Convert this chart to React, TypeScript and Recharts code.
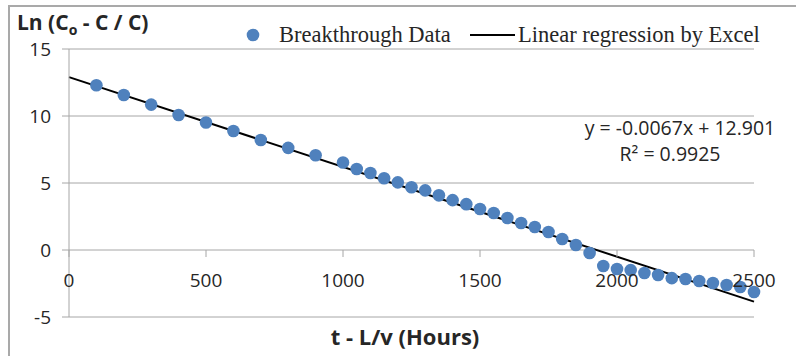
import React from "react";
import { ComposedChart, Scatter, Line, XAxis, YAxis, CartesianGrid } from "recharts";

// elapsed time minus travel time, hours
const HOURS = [
  100, 200, 300, 400, 500, 600, 700, 800, 900,
  1000, 1050, 1100, 1150, 1200, 1250, 1300, 1350, 1400, 1450,
  1500, 1550, 1600, 1650, 1700, 1750, 1800, 1850, 1900, 1950,
  2000, 2050, 2100, 2150, 2200, 2250, 2300, 2350, 2400, 2450, 2500,
];
// Ln((Co - C) / C)
const LN_RATIO = [
  12.3, 11.57, 10.85, 10.07, 9.52, 8.88, 8.21, 7.62, 7.07,
  6.53, 6.04, 5.75, 5.35, 5.05, 4.68, 4.45, 4.08, 3.72, 3.42,
  3.06, 2.76, 2.39, 2.02, 1.72, 1.34, 0.82, 0.37, -0.22, -1.19,
  -1.42, -1.5, -1.72, -1.87, -2.1, -2.16, -2.31, -2.46, -2.61, -2.76, -3.13,
];
// excel trend line end points
const FIT_HOURS = [0, 2500];
const FIT_VALUES = [12.901, -3.849];

const X_TICKS = [0, 500, 1000, 1500, 2000, 2500];
const Y_TICKS = [-5, 0, 5, 10, 15];

const points = HOURS.map((t, i) => ({ t, v: LN_RATIO[i] }));
const fit = FIT_HOURS.map((t, i) => ({ t, v: FIT_VALUES[i] }));

const W = 796, H = 356;
const M = { top: 49, right: 42, bottom: 0, left: 0 };
const Y_AXIS_W = 69;
const X_AXIS_H = 39;
const PLOT_H = H - M.top - M.bottom - X_AXIS_H;
const Y_MIN = -5, Y_MAX = 15;
// x axis crosses at y = 0, not at the bottom of the plot
const ZERO_LIFT = PLOT_H * (0 - Y_MIN) / (Y_MAX - Y_MIN);

const GRID = "#A6A6A6";
const TXT = "#262626";
const NUM_FONT = "'Open Sans', sans-serif";
const SERIF = "'Liberation Serif', 'Times New Roman', serif";
const BLUE = "#4F81BD";

function XTick({ x, y, payload }: any) {
  const y0 = y - ZERO_LIFT;
  return (
    <g>
      <line x1={x} x2={x} y1={y0} y2={y0 + 7} stroke={GRID} />
      <text x={x} y={y0 + 37} textAnchor="middle" fill={TXT}
        style={{ fontFamily: NUM_FONT, fontSize: 19 }}>{payload.value}</text>
    </g>
  );
}

export default function App() {
  return (
    <div style={{ position: "absolute", left: 0, top: 0, width: W, height: H, background: "#fff", overflow: "hidden" }}>
      <div style={{ position: "absolute", left: 8, top: 5, width: W, height: H, borderLeft: "2px solid #A9A9A9", borderTop: "2px solid #A9A9A9" }} />
      <ComposedChart width={W} height={H} margin={M} style={{ position: "absolute", left: 0, top: 0 }}>
        <CartesianGrid vertical={false} stroke={GRID} strokeWidth={1} />
        <XAxis type="number" dataKey="t" domain={[0, 2500]} ticks={X_TICKS} height={X_AXIS_H}
          axisLine={false} tickLine={false} tickSize={0} tickMargin={0} tick={<XTick />} />
        <YAxis type="number" dataKey="v" domain={[Y_MIN, Y_MAX]} ticks={Y_TICKS} width={Y_AXIS_W}
          axisLine={{ stroke: GRID }} tickLine={{ stroke: GRID }} tickSize={7} tickMargin={11}
          tick={{ fill: TXT, fontSize: 19, fontFamily: NUM_FONT }} />
        <Scatter data={points} dataKey="v" fill={BLUE} isAnimationActive={false}
          shape={(p: any) => <circle cx={p.cx} cy={p.cy} r={6.3} fill={BLUE} />} />
        <Line data={fit} dataKey="v" type="linear" stroke="#000" strokeWidth={2} dot={false}
          activeDot={false} isAnimationActive={false} />
      </ComposedChart>

      {/* y axis title */}
      <div style={{ position: "absolute", left: 17, top: 8, fontFamily: NUM_FONT, fontWeight: 700, fontSize: 21, lineHeight: "28px", color: TXT, whiteSpace: "nowrap" }}>
        Ln (C<sub style={{ fontSize: 14, lineHeight: 0 }}>o</sub> - C / C)
      </div>
      {/* x axis title */}
      <div style={{ position: "absolute", left: 0, width: 810, top: 321, textAlign: "center", fontFamily: NUM_FONT, fontWeight: 700, fontSize: 22, lineHeight: "30px", color: TXT }}>
        t - L/v (Hours)
      </div>

      {/* legend */}
      <svg width={W} height={60} style={{ position: "absolute", left: 0, top: 0 }}>
        <circle cx={253} cy={35} r={6.3} fill={BLUE} />
        <text x={279} y={42} fill={TXT} style={{ fontFamily: SERIF, fontSize: 22.5 }}>Breakthrough Data</text>
        <line x1={470} x2={515} y1={35} y2={35} stroke="#000" strokeWidth={2} />
        <text x={518} y={42} fill={TXT} style={{ fontFamily: SERIF, fontSize: 22.5 }}>Linear regression by Excel</text>
      </svg>

      {/* regression annotation */}
      <div style={{ position: "absolute", left: 560, width: 220, top: 115, textAlign: "center", fontFamily: NUM_FONT, fontSize: 19.5, lineHeight: "26px", color: TXT }}>
        <div style={{ marginLeft: 20 }}>y = -0.0067x + 12.901</div>
        <div>R² = 0.9925</div>
      </div>
    </div>
  );
}
